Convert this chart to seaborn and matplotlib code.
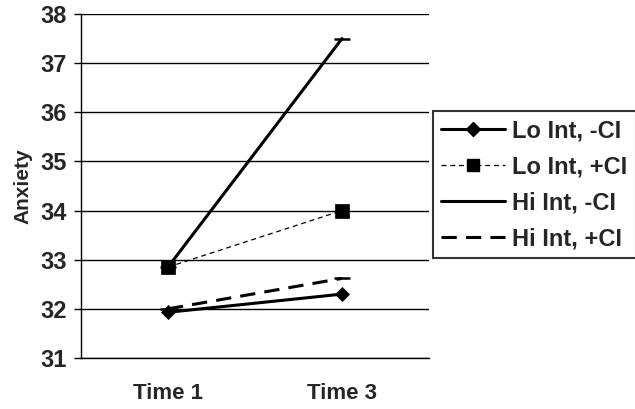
import pandas as pd
import matplotlib
matplotlib.use("Agg")
import matplotlib.pyplot as plt
from matplotlib.lines import Line2D
import seaborn as sns

# data
times = ["Time 1", "Time 3"]
lo_minus_ci = [31.93, 32.30]
lo_plus_ci = [32.85, 34.00]
hi_minus_ci = [32.85, 37.50]
hi_plus_ci = [32.00, 32.62]
series_names = ["Lo Int, -CI", "Lo Int, +CI", "Hi Int, -CI", "Hi Int, +CI"]

sns.set_style("white")
plt.rcParams["font.family"] = ["Liberation Sans", "DejaVu Sans"]
plt.rcParams["font.weight"] = "bold"

fig = plt.figure(figsize=(6.35, 4.09), dpi=100)
ax = fig.add_axes([81 / 635, 1 - 358 / 409, 348 / 635, 344 / 409])

styles = [
    dict(color="black", lw=2.2, marker="D", markersize=7.5, linestyle="-"),
    dict(color="black", lw=0.9, marker="s", markersize=10, linestyle=(0, (4, 3))),
    dict(color="black", lw=2.2, marker="_", markersize=11, markeredgewidth=1.8, linestyle="-"),
    dict(color="black", lw=2.2, marker="_", markersize=11, markeredgewidth=1.8, linestyle=(0, (5, 3))),
]
all_vals = [lo_minus_ci, lo_plus_ci, hi_minus_ci, hi_plus_ci]

# draw back to front so the diamond line sits on top
order = [3, 2, 1, 0]
for i in order:
    df = pd.DataFrame({"x": [0, 1], "y": all_vals[i]})
    st = styles[i]
    sns.lineplot(data=df, x="x", y="y", ax=ax, color=st["color"], lw=st["lw"],
                 linestyle=st["linestyle"], marker=st["marker"],
                 markersize=st["markersize"],
                 markeredgewidth=st.get("markeredgewidth", 0.5),
                 markeredgecolor="black", label=None, legend=False, zorder=3 + (3 - i))

ax.set_xlim(-0.5, 1.5)
ax.set_ylim(31, 38)
ax.set_yticks(range(31, 39))
ax.set_xticks([0, 1])
ax.set_xticklabels(times)
ax.set_xticks([-0.5, 0.5, 1.5], minor=True)
ax.tick_params(axis="x", which="major", length=0, pad=18, labelsize=16)
ax.tick_params(axis="x", which="minor", length=5, width=1, direction="out", color="black")
ax.tick_params(axis="y", length=5, width=1, direction="out", color="black", labelsize=17, pad=5)
ax.tick_params(axis="both", bottom=True, left=True)
for lab in ax.get_xticklabels() + ax.get_yticklabels():
    lab.set_fontweight("bold")

ax.yaxis.grid(True, color="black", lw=1)
ax.set_axisbelow(True)
for side in ["top", "right"]:
    ax.spines[side].set_visible(False)
for side in ["left", "bottom"]:
    ax.spines[side].set_color("black")
    ax.spines[side].set_linewidth(1)

ax.set_xlabel("")
ax.set_ylabel("Anxiety", fontsize=15, fontweight="bold", labelpad=6)

handles = [
    Line2D([], [], color="black", lw=2.2, marker="D", markersize=7.5),
    Line2D([], [], color="black", lw=0.9, linestyle=(0, (4, 3)), marker="s", markersize=9),
    Line2D([], [], color="black", lw=2.2),
    Line2D([], [], color="black", lw=2.2, linestyle=(0, (5, 3))),
]
leg = fig.legend(handles, series_names, loc="upper left",
                 bbox_to_anchor=(433 / 635, 1 - 111 / 409),
                 prop={"weight": "bold", "size": 17},
                 frameon=True, fancybox=False, handlelength=2.7,
                 handletextpad=0.3, borderpad=0.35, labelspacing=0.55,
                 borderaxespad=0)
leg.get_frame().set_edgecolor("black")
leg.get_frame().set_linewidth(1.5)

fig.savefig("out.png", dpi=100)
